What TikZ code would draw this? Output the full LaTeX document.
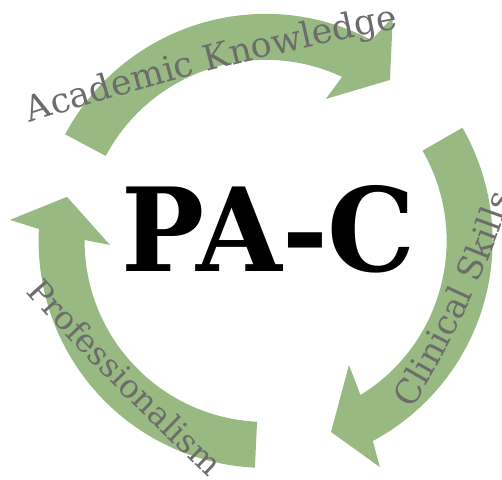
\documentclass[tikz,border=0pt]{standalone}
\usepackage{fontspec}
\newfontfamily\labelfont{DejaVu Serif}
\newfontfamily\pacfont{DejaVu Serif}
\usetikzlibrary{decorations.text}
\definecolor{arrowgreen}{RGB}{152,185,130}
\definecolor{labelgray}{RGB}{108,108,108}
\begin{document}
\begin{tikzpicture}[x=1pt,y=1pt,
  band/.style={fill=arrowgreen},
  arclabel/.style={decorate, decoration={text along path, text align=left, text color=labelgray}}]
\useasboundingbox (0,0) rectangle (502,479);
\clip (0,0) rectangle (502,479);
\coordinate (ctr) at (265.6,238.1);
% top arrow (Academic Knowledge)
\fill[band] ([shift={(152:227)}]ctr) arc[start angle=152,end angle=62.2,radius=227]
  -- ([shift={(60.4:257.6)}]ctr) -- ([shift={(52.3:203.4)}]ctr)
  -- ([shift={(67:154.2)}]ctr) -- ([shift={(65:181)}]ctr)
  arc[start angle=65,end angle=152,radius=181] -- cycle;
% right arrow (Clinical Skills)
\fill[band] ([shift={(29.9:227)}]ctr) arc[start angle=29.9,end angle=-61.8,radius=227]
  -- ([shift={(-63.2:253.4)}]ctr) -- ([shift={(-71.1:202)}]ctr)
  -- ([shift={(-56.1:149.5)}]ctr) -- ([shift={(-58.4:181)}]ctr)
  arc[start angle=-58.4,end angle=29.9,radius=181] -- cycle;
% left arrow (Professionalism)
\fill[band] ([shift={(267.3:227)}]ctr) arc[start angle=267.3,end angle=177,radius=227]
  -- ([shift={(175.3:256.5)}]ctr) -- ([shift={(167.5:203.4)}]ctr)
  -- ([shift={(181.5:155.7)}]ctr) -- ([shift={(179.7:181)}]ctr)
  arc[start angle=179.7,end angle=267.3,radius=181] -- cycle;
% centre text
\node[font=\pacfont\bfseries\fontsize{116}{116}\selectfont, anchor=base, inner sep=0pt] (pac) at (268.5,207) {\scalebox{0.953}[1]{PA-C}};
% labels
\coordinate (ak1) at (30,356);
\coordinate (ak2) at (420,455);
\path[arclabel, decoration={text={|\labelfont\fontsize{35}{35}\selectfont|Academic Knowledge}}]
  (ak1) .. controls (150,395) and (280,428) .. (ak2);
\coordinate (cs1) at (412,70);
\coordinate (cs2) at (520,310);
\path[arclabel, decoration={text={|\labelfont\fontsize{34}{34}\selectfont|Clinical Skills}}]
  (cs1) .. controls (452,135) and (492,215) .. (cs2);
\coordinate (pr1) at (26,187);
\coordinate (pr2) at (225,-14);
\path[arclabel, decoration={text={|\labelfont\fontsize{32.5}{32.5}\selectfont|Professionalism}}]
  (pr1) .. controls (85,120) and (152,55) .. (pr2);
\end{tikzpicture}
\end{document}
